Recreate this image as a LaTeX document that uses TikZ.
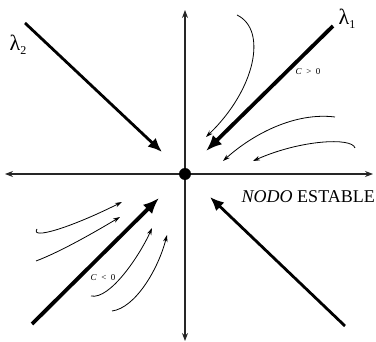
\documentclass[tikz,border=0pt]{standalone}
\usepackage{fontspec}
\setmainfont{Liberation Serif}
\usetikzlibrary{arrows.meta}

\begin{document}
\begin{tikzpicture}[x=1pt, y=-1pt,
  axis/.style={-{Stealth[length=8pt,width=6pt]}, line width=1.1pt, black!85},
  eigen/.style={-{Latex[length=16pt,width=13pt]}, line width=3.8pt},
  eigenb/.style={-{Latex[length=14pt,width=12pt]}, line width=2.8pt},
  orbit/.style={-{Stealth[length=7pt,width=4.5pt]}, line width=0.8pt},
  lbl/.style={font=\fontsize{22}{22}\selectfont, inner sep=0pt},
  small/.style={font=\fontsize{9}{9}\selectfont, inner sep=0pt}
]
\useasboundingbox (0,0) rectangle (376,342);
\coordinate (O) at (185,174);
% axes
\coordinate (E) at (373,174);
\coordinate (W) at (5,174);
\coordinate (N) at (185,10);
\coordinate (S) at (185,341);
\draw[axis] (O) -- (E);
\draw[axis] (O) -- (W);
\draw[axis] (O) -- (N);
\draw[axis] (O) -- (S);
\node[circle, fill, inner sep=0pt, minimum size=12pt] (dot) at (O) {};
% eigenvectors
\coordinate (l1) at (333,26);
\coordinate (l1tip) at (206,151);
\coordinate (l2) at (25,23);
\coordinate (l2tip) at (162,152);
\coordinate (q3) at (32,324);
\coordinate (q3tip) at (159,198);
\coordinate (q4) at (345,326);
\coordinate (q4tip) at (210,197);
\draw[eigen] (l1) -- (l1tip);
\draw[eigenb] (l2) -- (l2tip);
\draw[eigen] (q3) -- (q3tip);
\draw[eigenb] (q4) -- (q4tip);
\node[lbl] (lam1) at (347,19) {λ\raisebox{-4pt}{\fontsize{12}{12}\selectfont 1}};
\node[lbl] (lam2) at (18,45) {λ\raisebox{-4pt}{\fontsize{12}{12}\selectfont 2}};
% trajectories, C > 0
\draw[orbit] (237,15) .. controls (268,30) and (255,90) .. (206,137);
\draw[orbit] (335,117) .. controls (295,112) and (253,134) .. (223,161);
\draw[orbit] (355,148) .. controls (352,137) and (300,140) .. (253,161);
% trajectories, C < 0
\draw[orbit] (37,229) .. controls (30,240) and (70,228) .. (122,202);
\draw[orbit] (36,261) .. controls (60,252) and (95,232) .. (120,217);
\draw[orbit] (91,296) .. controls (110,300) and (140,255) .. (152,228);
\draw[orbit] (112,311) .. controls (135,308) and (158,270) .. (167,235);
% labels
\node[small] (cpos) at (308,72) {\textit{C}\ \ \textgreater\ \ 0};
\node[small] (cneg) at (103,278) {\textit{C}\ \ \textless\ \ 0};
\node[font=\fontsize{18}{18}\selectfont, anchor=base east, inner sep=0pt] (nodo) at (375,203) {\textit{NODO} ESTABLE};
\end{tikzpicture}
\end{document}
